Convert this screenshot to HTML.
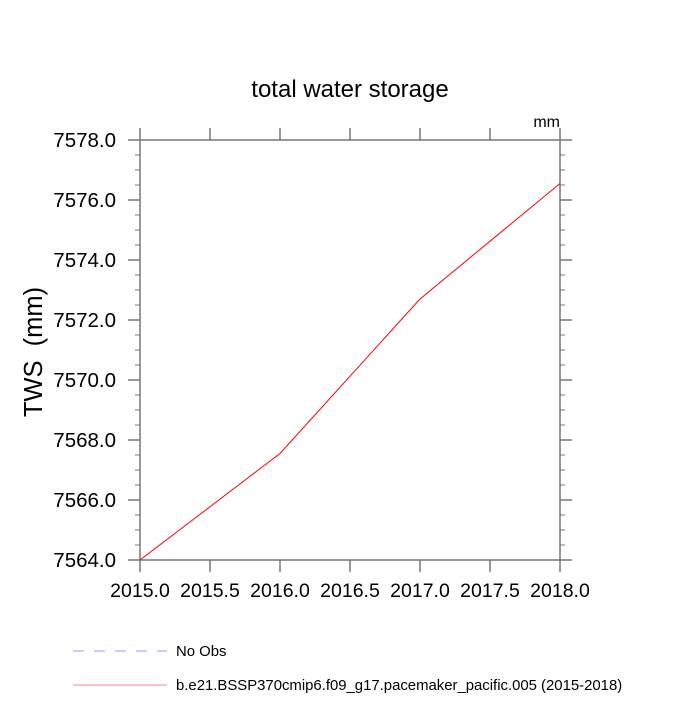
<!DOCTYPE html>
<html><head><meta charset="utf-8"><style>
body{margin:0;background:#fff;}
text{font-family:"Liberation Sans",sans-serif;fill:#000;}
</style></head><body>
<svg id="chart" width="700" height="700" xmlns="http://www.w3.org/2000/svg">
<rect width="700" height="700" fill="#fff"/>
<text x="350" y="97" font-size="24" text-anchor="middle">total water storage</text>
<text x="560" y="127" font-size="16" text-anchor="end">mm</text>
<text transform="translate(42,352) rotate(-90)" font-size="25.5" text-anchor="middle" xml:space="preserve" style="white-space:pre">TWS  (mm)</text>
<g id="axes"></g>
<path id="series" fill="none" stroke="#ff0000" stroke-width="1"/>
<g>
<line x1="73" y1="651" x2="167" y2="651" stroke="#9999ff" stroke-width="1" stroke-dasharray="11,10"/>
<text x="176" y="656" font-size="14.9">No Obs</text>
<line x1="73" y1="685" x2="167" y2="685" stroke="#ff8080" stroke-width="1"/>
<text x="176" y="690" font-size="14.9">b.e21.BSSP370cmip6.f09_g17.pacemaker_pacific.005 (2015-2018)</text>
</g>
</svg>
<script>
const years=[2015,2016,2017,2018];
const tws=[7564.0,7567.55,7572.7,7576.55];
const xTicks=[2015.0,2015.5,2016.0,2016.5,2017.0,2017.5,2018.0];
const yTicks=[7564,7566,7568,7570,7572,7574,7576,7578];
const X0=140,X1=560,Y0=560,Y1=140,xmin=2015,xmax=2018,ymin=7564,ymax=7578;
const sx=v=>X0+(v-xmin)/(xmax-xmin)*(X1-X0);
const sy=v=>Y0-(v-ymin)/(ymax-ymin)*(Y0-Y1);
const ns="http://www.w3.org/2000/svg";
const g=document.getElementById('axes');
const ax="#777";
function ln(x1,y1,x2,y2,name,w){const l=document.createElementNS(ns,'line');l.setAttribute('x1',x1);l.setAttribute('y1',y1);l.setAttribute('x2',x2);l.setAttribute('y2',y2);l.setAttribute('stroke',ax);l.setAttribute('stroke-width',w||1.5);


g.appendChild(l);return l;}
function tx(x,y,s,anchor,name,fs){const t=document.createElementNS(ns,'text');t.setAttribute('x',x);t.setAttribute('y',y);t.setAttribute('font-size',fs);t.setAttribute('text-anchor',anchor);t.textContent=s;


g.appendChild(t);}
const fr=document.createElementNS(ns,'rect');
fr.setAttribute('x',X0);fr.setAttribute('y',Y1);fr.setAttribute('width',X1-X0);fr.setAttribute('height',Y0-Y1);fr.setAttribute('fill','none');fr.setAttribute('stroke',ax);fr.setAttribute('stroke-width','1.5');


g.appendChild(fr);
xTicks.forEach(v=>{const x=sx(v);ln(x,Y0,x,Y0+12,'x-tick');ln(x,Y1,x,Y1-12,'x-tick-top');tx(x,597,v.toFixed(1),'middle','x-tick-label','19.5');});
yTicks.forEach(v=>{const y=sy(v);ln(X0,y,X0-12,y,'y-tick');ln(X1,y,X1+12,y,'y-tick-right');tx(116,y+7,v.toFixed(1),'end','y-tick-label','20.5');});
for(let v=ymin;v<ymax;v+=0.5){if(Math.abs(v%2)<1e-6)continue;const y=sy(v);ln(X0,y,X0-5,y,'y-minor-tick',1);ln(X1,y,X1+5,y,'y-minor-tick-right',1);}
document.getElementById('series').setAttribute('d',years.map((y,i)=>(i?'L':'M')+sx(y)+','+sy(tws[i])).join(''));
</script>
</body></html>
